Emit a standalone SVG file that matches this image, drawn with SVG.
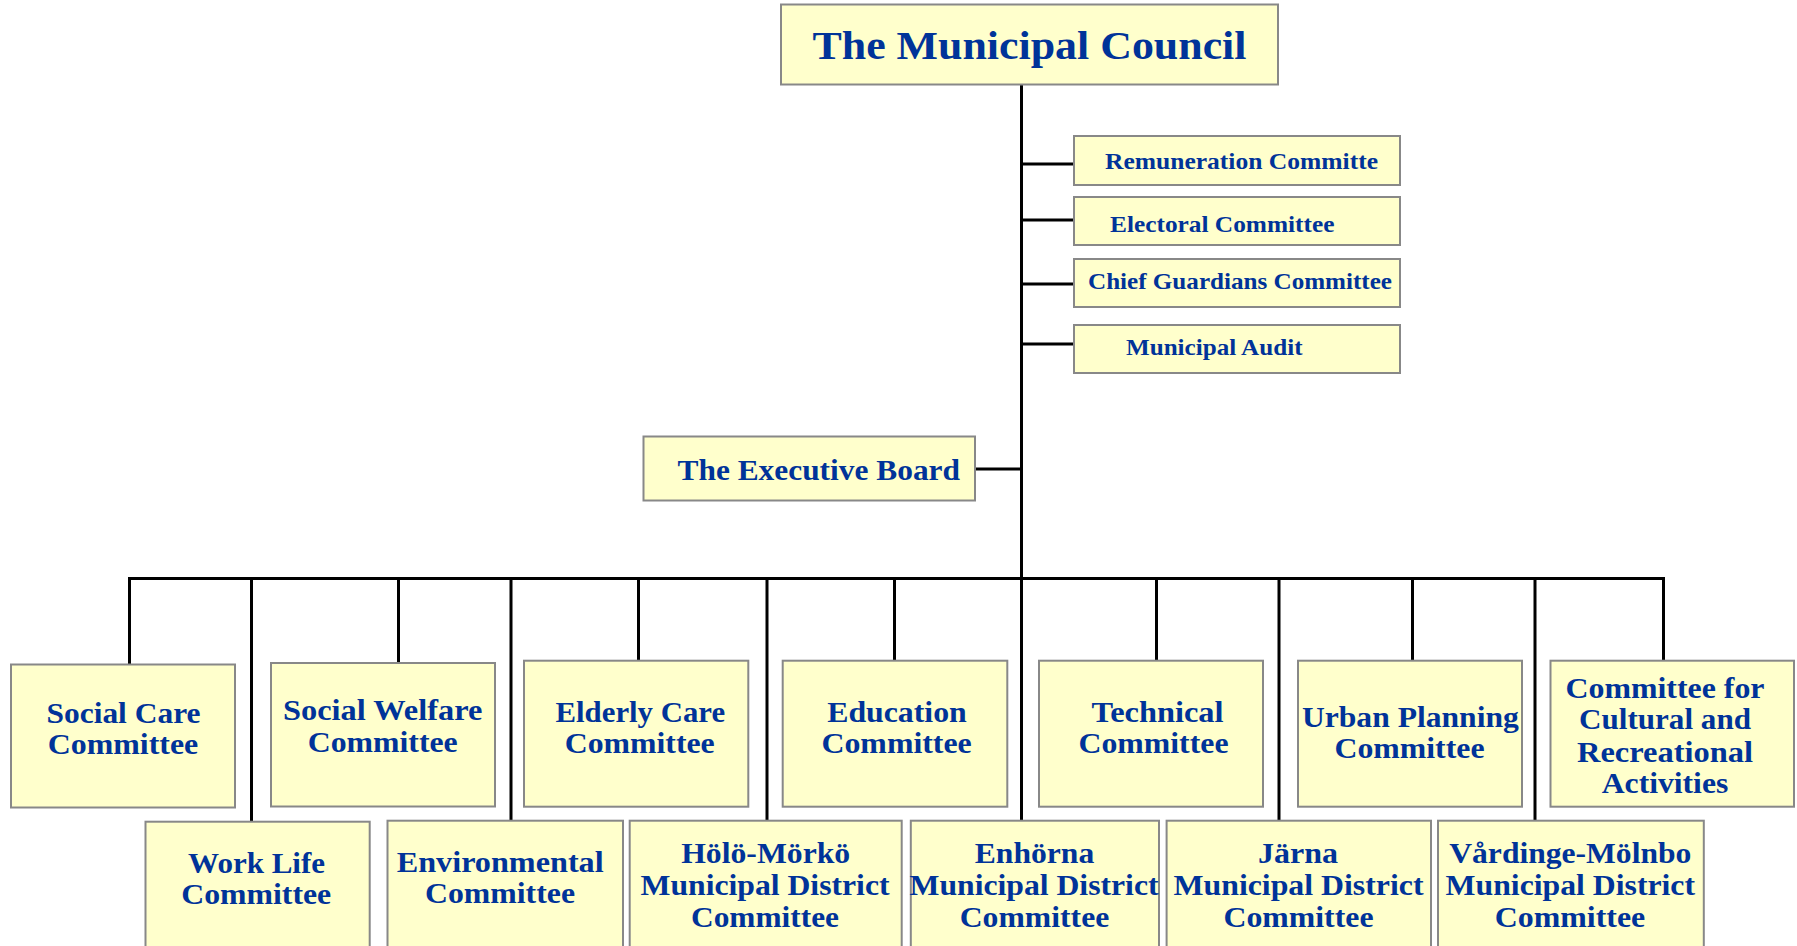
<svg xmlns="http://www.w3.org/2000/svg" width="1797" height="946" viewBox="0 0 1797 946">
<style>
.box{fill:#FFFFCC;stroke:#888888;stroke-width:2}
.t{font-family:"Liberation Serif","Times New Roman",serif;font-weight:bold;fill:#003399;lengthAdjust:spacingAndGlyphs}
.s{font-size:23px}
.m{font-size:29px}
.c{text-anchor:middle}
.ln{stroke:#000;stroke-width:3;fill:none;stroke-linecap:square;stroke-linejoin:miter}
</style>
<rect width="1797" height="946" fill="#fff"/>
<g id="connectors">
<path class="ln" d="M1021.5 85V820"/>
<path class="ln" d="M1021.5 164H1074M1021.5 220H1074M1021.5 284H1074M1021.5 344H1074"/>
<path class="ln" d="M975 469H1021.5"/>
<path class="ln" d="M129.5 664V578.5H1663.5V660"/>
<path class="ln" d="M251.5 578.5V821M398.5 578.5V663M511 578.5V820M638.5 578.5V660M767 578.5V820M894.5 578.5V660M1156.5 578.5V660M1279 578.5V820M1412.5 578.5V660M1535 578.5V820"/>
</g>
<g id="council">
<rect class="box" x="781" y="4.5" width="497" height="80"/>
<text class="t" x="812.5" y="59" font-size="41" textLength="434" lengthAdjust="spacingAndGlyphs">The Municipal Council</text>
</g>
<g id="remuneration">
<rect class="box" x="1074" y="136" width="326" height="49"/>
<text class="t s" x="1105" y="169" textLength="273" lengthAdjust="spacingAndGlyphs">Remuneration Committe</text>
</g>
<g id="electoral">
<rect class="box" x="1074" y="197" width="326" height="48"/>
<text class="t s" x="1110" y="231.5" textLength="224.5" lengthAdjust="spacingAndGlyphs">Electoral Committee</text>
</g>
<g id="chief-guardians">
<rect class="box" x="1074" y="259" width="326" height="48"/>
<text class="t s" x="1088" y="288.5" textLength="304" lengthAdjust="spacingAndGlyphs">Chief Guardians Committee</text>
</g>
<g id="audit">
<rect class="box" x="1074" y="325" width="326" height="48"/>
<text class="t s" x="1126" y="355" textLength="176.5" lengthAdjust="spacingAndGlyphs">Municipal Audit</text>
</g>
<g id="executive">
<rect class="box" x="643.5" y="436.5" width="331.5" height="64"/>
<text class="t m" x="677.5" y="480" textLength="282.5" lengthAdjust="spacingAndGlyphs">The Executive Board</text>
</g>
<g id="social-care">
<rect class="box" x="11" y="664.5" width="224" height="143"/>
<text class="t m c" x="123.5" y="722.5" textLength="154" lengthAdjust="spacingAndGlyphs">Social Care</text>
<text class="t m c" x="123" y="754.3" textLength="150.5" lengthAdjust="spacingAndGlyphs">Committee</text>
</g>
<g id="social-welfare">
<rect class="box" x="271" y="663" width="224" height="143.5"/>
<text class="t m c" x="382.7" y="720" textLength="199.3" lengthAdjust="spacingAndGlyphs">Social Welfare</text>
<text class="t m c" x="382.7" y="751.7" textLength="150" lengthAdjust="spacingAndGlyphs">Committee</text>
</g>
<g id="elderly-care">
<rect class="box" x="524" y="660.7" width="224.3" height="146"/>
<text class="t m c" x="640.3" y="721.7" textLength="169.5" lengthAdjust="spacingAndGlyphs">Elderly Care</text>
<text class="t m c" x="639.7" y="753.3" textLength="150" lengthAdjust="spacingAndGlyphs">Committee</text>
</g>
<g id="education">
<rect class="box" x="782.7" y="660.7" width="224.6" height="146"/>
<text class="t m c" x="897" y="721.7" textLength="139.6" lengthAdjust="spacingAndGlyphs">Education</text>
<text class="t m c" x="896.6" y="753.3" textLength="150.3" lengthAdjust="spacingAndGlyphs">Committee</text>
</g>
<g id="technical">
<rect class="box" x="1039" y="660.7" width="224" height="146"/>
<text class="t m c" x="1157.5" y="721.7" textLength="132" lengthAdjust="spacingAndGlyphs">Technical</text>
<text class="t m c" x="1153.5" y="753.3" textLength="150" lengthAdjust="spacingAndGlyphs">Committee</text>
</g>
<g id="urban-planning">
<rect class="box" x="1298" y="660.7" width="224" height="146"/>
<text class="t m c" x="1410.4" y="726.7" textLength="217" lengthAdjust="spacingAndGlyphs">Urban Planning</text>
<text class="t m c" x="1409.5" y="758.3" textLength="150" lengthAdjust="spacingAndGlyphs">Committee</text>
</g>
<g id="cultural">
<rect class="box" x="1550.5" y="660.7" width="243.5" height="146"/>
<text class="t m c" x="1665" y="697.7" textLength="199" lengthAdjust="spacingAndGlyphs">Committee for</text>
<text class="t m c" x="1665" y="729.3" textLength="172" lengthAdjust="spacingAndGlyphs">Cultural and</text>
<text class="t m c" x="1665" y="761.7" textLength="176" lengthAdjust="spacingAndGlyphs">Recreational</text>
<text class="t m c" x="1665" y="792.7" textLength="126.5" lengthAdjust="spacingAndGlyphs">Activities</text>
</g>
<g id="work-life">
<rect class="box" x="145.5" y="821.7" width="224.2" height="140"/>
<text class="t m c" x="256.6" y="872.7" textLength="137" lengthAdjust="spacingAndGlyphs">Work Life</text>
<text class="t m c" x="256.2" y="904.3" textLength="150" lengthAdjust="spacingAndGlyphs">Committee</text>
</g>
<g id="environmental">
<rect class="box" x="387.5" y="820.7" width="235.5" height="140"/>
<text class="t m c" x="500.2" y="871.7" textLength="207" lengthAdjust="spacingAndGlyphs">Environmental</text>
<text class="t m c" x="500" y="903.3" textLength="150" lengthAdjust="spacingAndGlyphs">Committee</text>
</g>
<g id="holo-morko">
<rect class="box" x="629.7" y="820.7" width="272" height="140"/>
<text class="t m c" x="765.7" y="863.3" textLength="169" lengthAdjust="spacingAndGlyphs">Hölö-Mörkö</text>
<text class="t m c" x="765" y="895" textLength="249" lengthAdjust="spacingAndGlyphs">Municipal District</text>
<text class="t m c" x="765" y="926.7" textLength="148" lengthAdjust="spacingAndGlyphs">Committee</text>
</g>
<g id="enhorna">
<rect class="box" x="910.8" y="820.7" width="248.2" height="140"/>
<text class="t m c" x="1034.5" y="862.7" textLength="119.5" lengthAdjust="spacingAndGlyphs">Enhörna</text>
<text class="t m c" x="1034" y="895" textLength="249" lengthAdjust="spacingAndGlyphs">Municipal District</text>
<text class="t m c" x="1034.5" y="926.7" textLength="149.5" lengthAdjust="spacingAndGlyphs">Committee</text>
</g>
<g id="jarna">
<rect class="box" x="1166.6" y="820.7" width="264.4" height="140"/>
<text class="t m c" x="1298" y="862.7" textLength="80" lengthAdjust="spacingAndGlyphs">Järna</text>
<text class="t m c" x="1298.5" y="895" textLength="250" lengthAdjust="spacingAndGlyphs">Municipal District</text>
<text class="t m c" x="1298.5" y="926.7" textLength="150" lengthAdjust="spacingAndGlyphs">Committee</text>
</g>
<g id="vardinge-molnbo">
<rect class="box" x="1438" y="820.7" width="265.8" height="140"/>
<text class="t m c" x="1570.3" y="862.7" textLength="242" lengthAdjust="spacingAndGlyphs">Vårdinge-Mölnbo</text>
<text class="t m c" x="1570.3" y="895" textLength="249.4" lengthAdjust="spacingAndGlyphs">Municipal District</text>
<text class="t m c" x="1570" y="926.7" textLength="150.5" lengthAdjust="spacingAndGlyphs">Committee</text>
</g>
</svg>
